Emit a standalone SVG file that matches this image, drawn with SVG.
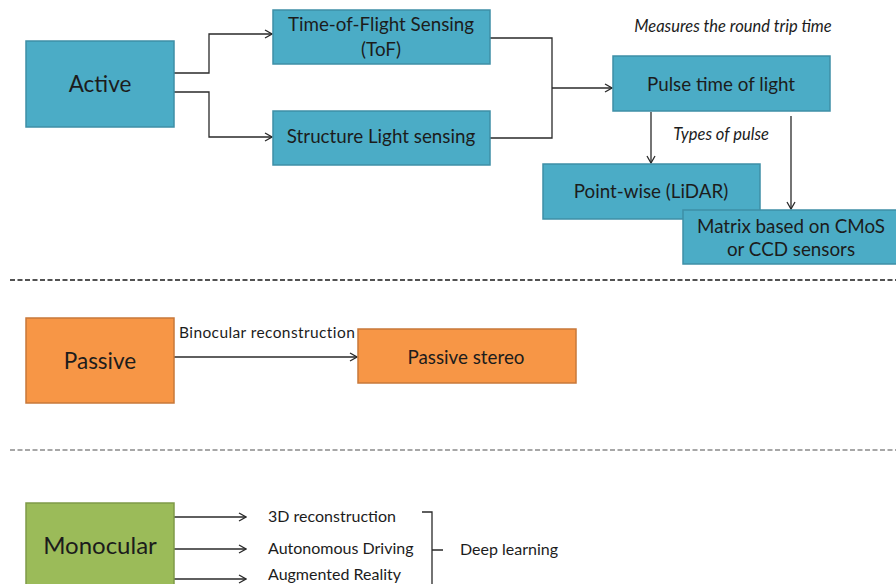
<svg xmlns="http://www.w3.org/2000/svg" width="896" height="584" viewBox="0 0 896 584">
  <style>
    .t { font-family: Lato, "Open Sans", "Liberation Sans", sans-serif; fill: #1c1c1c; }
    .teal { fill: #4bacc6; stroke: #3e8fa6; stroke-width: 1.5; }
    .orange { fill: #f79646; stroke: #c8783a; stroke-width: 1.5; }
    .green { fill: #9bbb59; stroke: #7f9a48; stroke-width: 1.5; }
    .conn { fill: none; stroke: #2a2a2a; stroke-width: 1.3; }
    .big { font-size: 22.5px; }
    .mid { font-size: 18.8px; }
    .sm { font-size: 16px; }
    .it { font-size: 16.5px; font-style: italic; }
  </style>
  <defs>
    <marker id="arr" viewBox="0 0 10 10" refX="9" refY="5" markerWidth="10" markerHeight="10" markerUnits="userSpaceOnUse" orient="auto">
      <path d="M2,1 L9,5 L2,9" fill="none" stroke="#2a2a2a" stroke-width="1.3"/>
    </marker>
  </defs>
  <rect width="896" height="584" fill="#ffffff"/>

  <g id="separators">
    <line x1="10" y1="280" x2="896" y2="280" stroke="#1a1a1a" stroke-width="1.5" stroke-dasharray="5 2.5"/>
    <line x1="10" y1="450" x2="896" y2="450" stroke="#8a8a8a" stroke-width="1.5" stroke-dasharray="5 2.5"/>
  </g>

  <g id="connectors">
    <path class="conn" d="M174,73 H209 V34 H272" marker-end="url(#arr)"/>
    <path class="conn" d="M174,92 H209 V137 H272" marker-end="url(#arr)"/>
    <path class="conn" d="M490,38 H552 V138 H490"/>
    <path class="conn" d="M552,88 H612" marker-end="url(#arr)"/>
    <path class="conn" d="M651,112 V163" marker-end="url(#arr)"/>
    <path class="conn" d="M791,116 V209" marker-end="url(#arr)"/>
    <path class="conn" d="M174,357 H357" marker-end="url(#arr)"/>
    <path class="conn" d="M174,517 H246" marker-end="url(#arr)"/>
    <path class="conn" d="M174,549 H246" marker-end="url(#arr)"/>
    <path class="conn" d="M174,579 H246" marker-end="url(#arr)"/>
    <path class="conn" d="M422,512 H432 V584 M432,550 H443"/>
  </g>

  <g id="labels">
    <text class="t it" x="733" y="32" text-anchor="middle">Measures the round trip time</text>
    <text class="t it" x="721" y="140" text-anchor="middle">Types of pulse</text>
    <text class="t" x="179" y="338" font-size="15.5" letter-spacing="0.4">Binocular reconstruction</text>
    <text class="t sm" x="268" y="522">3D reconstruction</text>
    <text class="t sm" x="268" y="554">Autonomous Driving</text>
    <text class="t sm" x="268" y="580">Augmented Reality</text>
    <text class="t sm" x="460" y="555">Deep learning</text>
  </g>

  <g id="active">
    <rect class="teal" x="26" y="41" width="148" height="86"/>
    <text class="t big" x="100" y="92" text-anchor="middle">Active</text>
  </g>
  <g id="tof">
    <rect class="teal" x="273" y="10" width="217" height="54"/>
    <text class="t mid" x="381" y="31" text-anchor="middle">Time-of-Flight Sensing</text>
    <text class="t mid" x="381" y="56" text-anchor="middle">(ToF)</text>
  </g>
  <g id="structure">
    <rect class="teal" x="273" y="111" width="217" height="54"/>
    <text class="t mid" x="381" y="143" text-anchor="middle">Structure Light sensing</text>
  </g>
  <g id="pulse">
    <rect class="teal" x="613" y="56" width="217" height="55"/>
    <text class="t mid" x="721" y="91" text-anchor="middle">Pulse time of light</text>
  </g>
  <g id="pointwise">
    <rect class="teal" x="543" y="164" width="217" height="55"/>
    <text class="t mid" x="651" y="198" text-anchor="middle">Point-wise (LiDAR)</text>
  </g>
  <g id="matrix">
    <rect class="teal" x="683" y="210" width="215" height="54"/>
    <text class="t mid" x="791" y="233" text-anchor="middle">Matrix based on CMoS</text>
    <text class="t mid" x="791" y="256" text-anchor="middle">or CCD sensors</text>
  </g>
  <g id="passive">
    <rect class="orange" x="26" y="318" width="148" height="85"/>
    <text class="t big" x="100" y="369" text-anchor="middle">Passive</text>
  </g>
  <g id="passive-stereo">
    <rect class="orange" x="358" y="329" width="218" height="54"/>
    <text class="t mid" x="466" y="364" text-anchor="middle">Passive stereo</text>
  </g>
  <g id="monocular">
    <rect class="green" x="26" y="503" width="148" height="90"/>
    <text class="t" x="100" y="554" font-size="24" text-anchor="middle">Monocular</text>
  </g>
</svg>
